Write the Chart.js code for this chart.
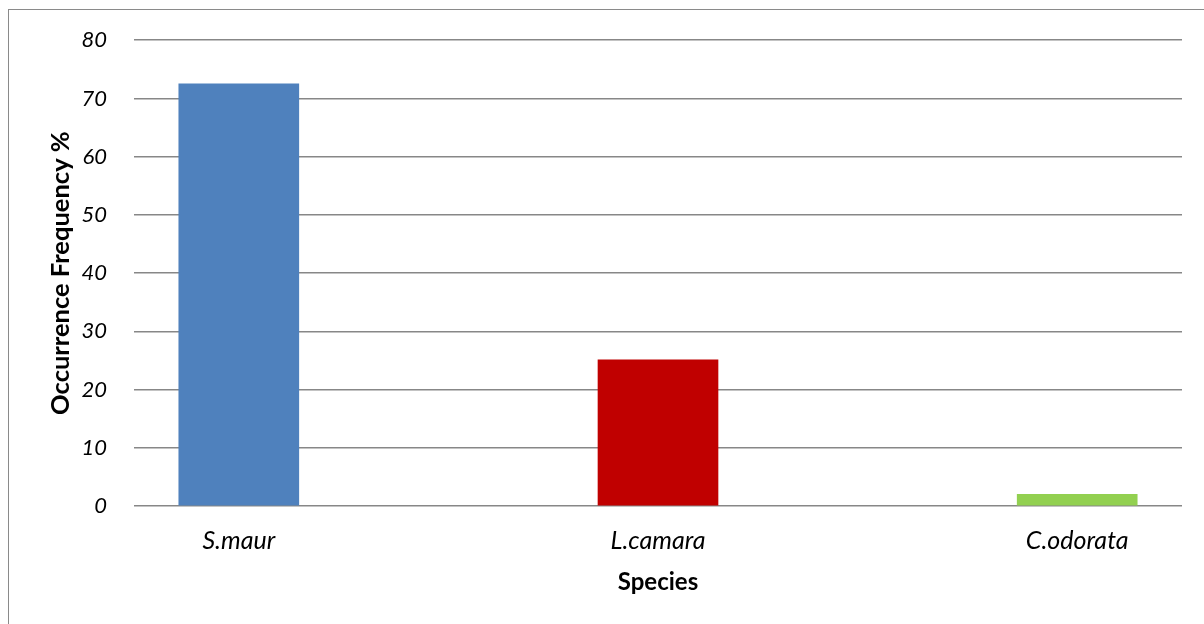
<!DOCTYPE html>
<html>
<head>
<meta charset="utf-8">
<title>Occurrence Frequency by Species</title>
<script src="https://cdn.jsdelivr.net/npm/chart.js@4/dist/chart.umd.min.js"></script>
<style>
  html, body { margin: 0; padding: 0; background: #ffffff; }
  #wrap { width: 1204px; height: 624px; }
</style>
</head>
<body>
<div id="wrap"><canvas id="chart" width="1204" height="624"></canvas></div>
<script>
// Species and their occurrence frequency (%)
const categories = ['S.maur', 'L.camara', 'C.odorata'];
const frequency = [72.5, 25.1, 2.0];
const barColors = ['#4F81BD', '#C00000', '#92D050'];
const yTicks = [0, 10, 20, 30, 40, 50, 60, 70, 80];

const fontFamily = 'Lato, "Open Sans", "DejaVu Sans", sans-serif';

// Thin grey frame around the whole chart
const framePlugin = {
  id: 'frame',
  beforeDraw(chart) {
    const ctx = chart.ctx;
    ctx.save();
    ctx.fillStyle = '#ffffff';
    ctx.fillRect(0, 0, chart.width, chart.height);
    ctx.strokeStyle = '#8a8a8a';
    ctx.lineWidth = 1;
    ctx.strokeRect(8.5, 9.5, chart.width + 20, chart.height + 20);
    ctx.restore();
  }
};

new Chart(document.getElementById('chart'), {
  type: 'bar',
  data: {
    datasets: [{
      data: categories.map((c, i) => ({ x: i, y: frequency[i] })),
      backgroundColor: barColors,
      borderWidth: 0,
      barThickness: 120
    }]
  },
  options: {
    responsive: false,
    animation: false,
    layout: { padding: { top: 38, right: 22, bottom: 0, left: 0 } },
    plugins: {
      legend: { display: false },
      tooltip: { enabled: false }
    },
    scales: {
      x: {
        type: 'linear',
        min: -0.25,
        max: 2.25,
        offset: false,
        grid: { display: false, drawTicks: false },
        border: { display: false },
        afterBuildTicks(axis) {
          axis.ticks = categories.map((c, i) => ({ value: i }));
        },
        afterFit(axis) { axis.height = 118; },
        ticks: {
          padding: 20,
          color: '#000000',
          autoSkip: false,
          maxRotation: 0,
          font: { family: fontFamily, size: 25, style: 'italic' },
          callback: (v) => categories[v]
        },
        title: {
          display: true,
          text: 'Species',
          color: '#000000',
          padding: { top: 0, bottom: 27 },
          font: { family: fontFamily, size: 24, weight: 'bold' }
        }
      },
      y: {
        min: 0,
        max: 80,
        afterBuildTicks(axis) {
          axis.ticks = yTicks.map(v => ({ value: v }));
        },
        afterFit(axis) { axis.width = 134; },
        grid: { color: '#878787', lineWidth: 1.5, drawTicks: false },
        border: { display: false },
        ticks: {
          padding: 27,
          color: '#000000',
          font: { family: fontFamily, size: 22, style: 'italic' }
        },
        title: {
          display: true,
          text: 'Occurrence Frequency %',
          color: '#000000',
          padding: { top: 45, bottom: 0 },
          font: { family: fontFamily, size: 25.5, weight: 'bold' }
        }
      }
    }
  },
  plugins: [framePlugin]
});
</script>
</body>
</html>
